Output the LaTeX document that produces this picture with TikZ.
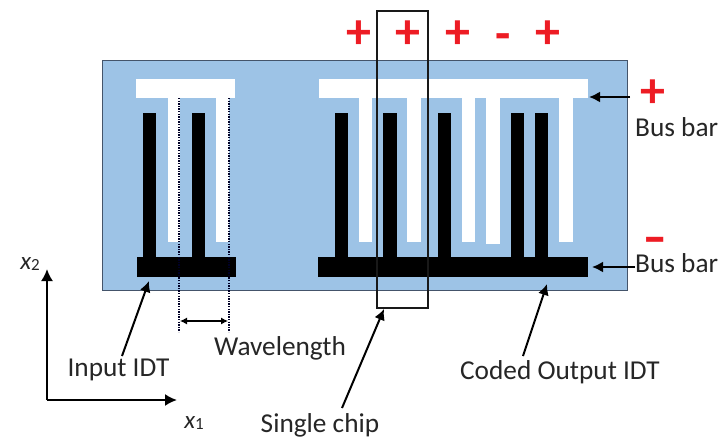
\documentclass[tikz,border=0pt]{standalone}
\usepackage{graphicx}
\usepackage{fontspec}
\setmainfont{Carlito}
\usetikzlibrary{arrows.meta}
\definecolor{boardblue}{HTML}{9DC3E6}
\definecolor{edgeblue}{HTML}{44546A}
\definecolor{signred}{HTML}{ED1C24}
\definecolor{inkgray}{HTML}{262626}
\tikzset{
  x=1pt,y=-1pt,
  lab/.style={inner sep=0pt,font=\fontsize{27.3}{27.3}\selectfont,text=inkgray},
  sign/.style={inner sep=0pt,text=signred,font=\fontsize{50}{50}\selectfont\bfseries},
  bigminus/.style={inner sep=0pt,text=signred,font=\fontsize{48}{48}\selectfont\bfseries},
  axislab/.style={inner sep=0pt,text=inkgray,font=\fontsize{25}{25}\selectfont\itshape},
  pointer/.style={line width=2pt,black,-{Latex[length=11pt,width=11pt]}},
  axisarrow/.style={line width=2pt,black,-{Latex[length=12pt,width=12pt]}},
  dimline/.style={line width=1.1pt,black,{Latex[length=7pt,width=7pt]}-{Latex[length=7pt,width=7pt]}},
  dots/.style={line width=1.2pt,black!85!blue,dash pattern=on 1.3pt off 1.3pt},
  whitemetal/.style={fill=white,draw=none},
  blackmetal/.style={fill=black,draw=none},
}
\newcommand{\subdigit}[1]{\raisebox{-1pt}{\fontsize{17}{17}\selectfont\upshape #1}}
\begin{document}
\begin{tikzpicture}
\useasboundingbox (0,0) rectangle (721,439);
% board
\fill[boardblue] (102,60) rectangle (627,290);
\draw[edgeblue,line width=1pt] (102,60) rectangle (627,290);
% input IDT, white
\fill[whitemetal] (136,79) rectangle (235,98);
\foreach \a/\b in {168/180,216/229} \fill[whitemetal] (\a,98) rectangle (\b,242);
% input IDT, black
\fill[blackmetal] (137,257) rectangle (236,277);
\foreach \a/\b in {143/156,192/205} \fill[blackmetal] (\a,113) rectangle (\b,257);
% output IDT, white
\fill[whitemetal] (319,79) rectangle (588,98);
\foreach \a/\b/\e in {359/372/242,407/421/242,462/475/242,486/499.5/243.5,559/573/242} \fill[whitemetal] (\a,98) rectangle (\b,\e);
% output IDT, black
\fill[blackmetal] (318,257) rectangle (588,277);
\foreach \a/\b in {335/348,383/396.5,438/451,511/524,535/548} \fill[blackmetal] (\a,113) rectangle (\b,257);
% wavelength marks
\coordinate (dotAt) at (179,98); \coordinate (dotAb) at (179,332);
\coordinate (dotBt) at (229,98); \coordinate (dotBb) at (229,332);
\coordinate (waveL) at (180,321); \coordinate (waveR) at (228,321);
\draw[dots] (dotAt) -- (dotAb);
\draw[dots] (dotBt) -- (dotBb);
\draw[dimline] (waveL) -- (waveR);
% single chip frame
\draw[black!90,line width=1.1pt] (377,11) rectangle (428,308);
% signs
\node[sign] (s1) at (358.5,35) {+};
\node[sign] (s2) at (408,35) {+};
\node[sign] (s3) at (458,35) {+};
\node[sign] (s4) at (503,42) {-};
\node[sign] (s5) at (548,35) {+};
\node[sign] (s6) at (653,94) {+};
\node[bigminus,anchor=base] (s7) at (655,253) {\scalebox{1.45}[1]{-}};
% labels
\node[lab,anchor=west] (busTop) at (635,127) {Bus bar};
\node[lab,anchor=west] (busBot) at (635,263) {Bus bar};
\node[lab] (inIDT) at (118.5,370) {Input IDT};
\node[lab] (wave) at (280,348) {Wavelength};
\node[lab] (outIDT) at (560,372) {Coded Output IDT};
\node[lab] (chip) at (320,425) {Single chip};
\node[axislab] (xtwo) at (30,264) {x\subdigit{2}};
\node[axislab] (xone) at (194,423) {x\subdigit{1}};
% pointers
\coordinate (tipTop) at (589,97); \coordinate (tailTop) at (630,97);
\coordinate (tipBot) at (592,267); \coordinate (tailBot) at (635,267);
\coordinate (tipIn) at (149,281); \coordinate (tailIn) at (122,356);
\coordinate (tipChip) at (384,309); \coordinate (tailChip) at (342,408);
\coordinate (tipOut) at (547,284); \coordinate (tailOut) at (523,356);
\draw[pointer] (tailTop) -- (tipTop);
\draw[pointer] (tailBot) -- (tipBot);
\draw[pointer] (tailIn) -- (tipIn);
\draw[pointer] (tailChip) -- (tipChip);
\draw[pointer] (tailOut) -- (tipOut);
% axes
\coordinate (axTop) at (47,269); \coordinate (axO) at (47,400); \coordinate (axRight) at (177,400);
\draw[axisarrow] (axO) -- (axTop);
\draw[axisarrow] (axO) -- (axRight);
\end{tikzpicture}
\end{document}
